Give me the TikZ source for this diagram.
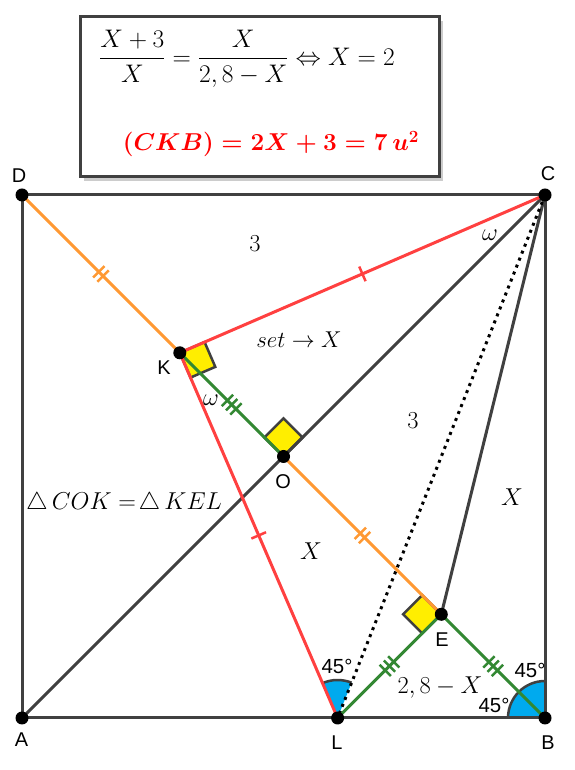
\RequirePackage{fix-cm}
\documentclass[tikz,border=0pt]{standalone}
\usepackage{amsmath}
\usepackage{fontspec}
\newfontfamily\labfont{Liberation Sans}
\usetikzlibrary{calc,decorations.markings,shadows}
\definecolor{linegray}{RGB}{64,64,64}
\definecolor{segorange}{RGB}{255,153,51}
\definecolor{segred}{RGB}{255,64,64}
\definecolor{seggreen}{RGB}{51,136,51}
\definecolor{sqyellow}{RGB}{255,238,0}
\definecolor{angblue}{RGB}{0,170,238}
\def\rightsq(#1)(#2)(#3){\filldraw[rsq] (#1) -- ($(#1)!27bp!(#2)$) -- ($(#1)!27bp!(#2)+(#1)!27bp!(#3)-(#1)$) -- ($(#1)!27bp!(#3)$) -- cycle;}
\def\anglefill(#1)(#2:#3:#4){\fill[angblue] (#1) -- ($(#1)+(#2:#4)$) arc (#2:#3:#4) -- cycle;
  \draw[linegray,line width=2.5bp] ($(#1)+(#2:#4)$) arc (#2:#3:#4);}
\tikzset{
  sqline/.style={linegray,line width=3bp},
  seg/.style={line width=3bp,#1},
  rsq/.style={fill=sqyellow,draw=linegray,line width=2.5bp},
  onetick/.style={postaction={decorate,decoration={markings,
      mark=at position 0.5 with {\draw[solid,line width=2.5bp,#1] (0,-8bp) -- (0,8bp);}}}},
  twoticks/.style={postaction={decorate,decoration={markings,
      mark=at position 0.5 with {\draw[solid,line width=2.5bp,#1] (-3bp,-8bp) -- (-3bp,8bp) (3bp,-8bp) -- (3bp,8bp);}}}},
  threeticks/.style={postaction={decorate,decoration={markings,
      mark=at position 0.5 with {\draw[solid,line width=2.5bp,#1] (-6bp,-8bp) -- (-6bp,8bp) (0bp,-8bp) -- (0bp,8bp) (6bp,-8bp) -- (6bp,8bp);}}}},
  mtxt/.style={font=\fontsize{24.5}{28}\selectfont,inner sep=0pt},
  lab/.style={font=\labfont\fontsize{20}{22}\selectfont,inner sep=0pt},
  deg/.style={font=\labfont\fontsize{20.5}{22}\selectfont,inner sep=0pt},
}

\begin{document}
\begin{tikzpicture}[x=1bp,y=1bp]
  \useasboundingbox (0,0) rectangle (575,770);
  %%%%% START %%%%%
  \coordinate (A) at (22,52);
  \coordinate (B) at (545,52);
  \coordinate (C) at (545,575);
  \coordinate (D) at (22,575);
  \coordinate (O) at (283.5,313.5);
  \coordinate (K) at (179.8,417.2);
  \coordinate (E) at (441.3,155.7);
  \coordinate (L) at (337.6,52);

  % formula box
  \draw[linegray,line width=3bp,fill=white,
        drop shadow={shadow xshift=4bp,shadow yshift=-4bp,fill=black!40,opacity=0.5}]
        (80,593) rectangle (439,753);
  \node[mtxt,font=\fontsize{25.5}{30}\selectfont] (eqn) at (247,711)
    {$\displaystyle \frac{X+3}{X}=\frac{X}{2,8-X}\Leftrightarrow X=2$};
  \node[mtxt,text=red,font=\fontsize{24.5}{28}\selectfont] (area) at (271,626)
    {$\boldsymbol{(CKB)=2X+3=7\,u^2}$};

  % angles
  \anglefill(L)(68.4:113.4:38bp)
  \anglefill(B)(90:180:37bp)

  % right angles
  \rightsq(K)(C)(L)
  \rightsq(O)(K)(C)
  \rightsq(E)(K)(L)

  % square and gray lines
  \draw[sqline] (A) -- (B) -- (C) -- (D) -- cycle;
  \draw[sqline] (A) -- (C);
  \draw[sqline] (C) -- (E);
  \draw[line width=3bp,dash pattern=on 3bp off 4.5bp] (C) -- (L);

  % coloured segments
  \draw[seg=segorange,twoticks=segorange] (D) -- (K);
  \draw[seg=segorange,twoticks=segorange] (O) -- (E);
  \draw[seg=seggreen,threeticks=seggreen] (K) -- (O);
  \draw[seg=seggreen,threeticks=seggreen] (E) -- (B);
  \draw[seg=seggreen,threeticks=seggreen] (L) -- (E);
  \draw[seg=segred,onetick=segred] (C) -- (K);
  \draw[seg=segred,onetick=segred] (K) -- (L);

  % points
  \foreach \p in {A,B,C,D,O,K,E,L}
    \fill (\p) circle (6.5bp);

  % point names
  \node[lab] (labD) at (19,594) {D};
  \node[lab] (labC) at (548,596) {C};
  \node[lab] (labA) at (21.5,30) {A};
  \node[lab] (labB) at (548,27) {B};
  \node[lab] (labL) at (337,27) {L};
  \node[lab] (labK) at (164,402) {K};
  \node[lab] (labO) at (283,288) {O};
  \node[lab] (labE) at (442,130) {E};

  % texts in the figure
  \node[mtxt] (three1) at (255,526) {$3$};
  \node[mtxt,font=\fontsize{23}{26}\selectfont] (setX) at (299,430) {$set\rightarrow X$};
  \node[mtxt] (omC) at (490,535) {$\omega$};
  \node[mtxt] (omK) at (211,370) {$\omega$};
  \node[mtxt] (three2) at (413,349) {$3$};
  \node[mtxt] (xright) at (512,273) {$X$};
  \node[mtxt] (xmid) at (311,219) {$X$};
  \node[mtxt] (tri) at (124,267) {$\triangle\,COK =\!\triangle\,KEL$};
  \node[mtxt] (diff) at (440,82) {$2,8-X$};
  \node[deg] (degL) at (337,104) {45°};
  \node[deg] (degB) at (530,100) {45°};
  \node[deg] (degBB) at (494,65) {45°};
  %%%%% END %%%%%
\end{tikzpicture}
\end{document}
